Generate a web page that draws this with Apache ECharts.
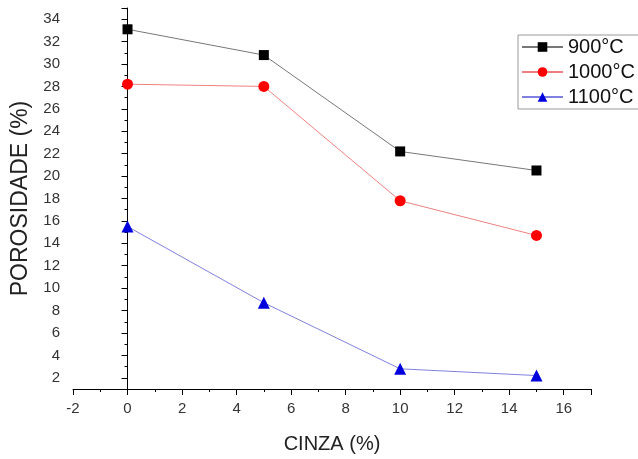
<!DOCTYPE html>
<html><head><meta charset="utf-8">
<script src="https://cdn.jsdelivr.net/npm/echarts@6/dist/echarts.min.js"></script>
<style>html,body{margin:0;padding:0;background:#fff}#c{width:638px;height:459px}</style>
</head><body><div id="c"></div>
<script>
const cinza = [0, 5, 10, 15];
const s900 = [33.1, 30.8, 22.2, 20.5];
const s1000 = [28.2, 28.0, 17.8, 14.7];
const s1100 = [15.5, 8.7, 2.8, 2.2];
const names = ['900°C', '1000°C', '1100°C'];

const chart = echarts.init(document.getElementById('c'));
const pts = arr => cinza.map((x, i) => [x, arr[i]]);
const font = 'Arial, "Liberation Sans", sans-serif';
chart.setOption({
  animation: false,
  textStyle: {fontFamily: font},
  grid: {left: 73, right: 47, top: 8, bottom: 67},
  legend: {
    left: 518, top: 35, orient: 'vertical',
    itemWidth: 41, itemHeight: 12, itemGap: 5,
    borderColor: '#999', borderWidth: 1, padding: [2, 6, 2, 3],
    textStyle: {fontSize: 20, color: '#111', fontFamily: font},
    data: names
  },
  xAxis: {
    type: 'value', min: -2, max: 17, interval: 2,
    name: 'CINZA (%)', nameLocation: 'middle', nameGap: 45,
    nameTextStyle: {fontSize: 20, color: '#222'},
    axisLine: {lineStyle: {color: '#000', width: 1}},
    axisTick: {inside: false, length: 6, lineStyle: {color: '#000'}},
    minorTick: {show: true, splitNumber: 2, length: 3, lineStyle: {color: '#000'}},
    axisLabel: {fontSize: 15, color: '#333', margin: 12,
      formatter: v => (v > 16 ? '' : String(v))},
    splitLine: {show: false}
  },
  yAxis: {
    type: 'value', min: 1, max: 35, splitNumber: 17, minInterval: 2, maxInterval: 2,
    name: 'POROSIDADE (%)', nameLocation: 'middle', nameGap: 36,
    nameTextStyle: {fontSize: 23, color: '#222'},
    axisLine: {show: true, lineStyle: {color: '#000', width: 1}},
    axisTick: {show: true, length: 6, lineStyle: {color: '#000'}},
    minorTick: {show: true, splitNumber: 2, length: 3, lineStyle: {color: '#000'}},
    axisLabel: {fontSize: 15, color: '#333', margin: 13,
      formatter: v => (v % 2 === 0 ? String(v) : '')},
    splitLine: {show: false}
  },
  series: [
    {name: names[0], type: 'line', data: pts(s900), symbol: 'rect', symbolSize: 10,
      itemStyle: {color: '#000'}, lineStyle: {color: '#777', width: 1}},
    {name: names[1], type: 'line', data: pts(s1000), symbol: 'circle', symbolSize: 11,
      itemStyle: {color: '#f00'}, lineStyle: {color: '#f08080', width: 1}},
    {name: names[2], type: 'line', data: pts(s1100), symbol: 'triangle', symbolSize: 12,
      itemStyle: {color: '#0000dd'}, lineStyle: {color: '#8080e0', width: 1}}
  ]
});
</script></body></html>
